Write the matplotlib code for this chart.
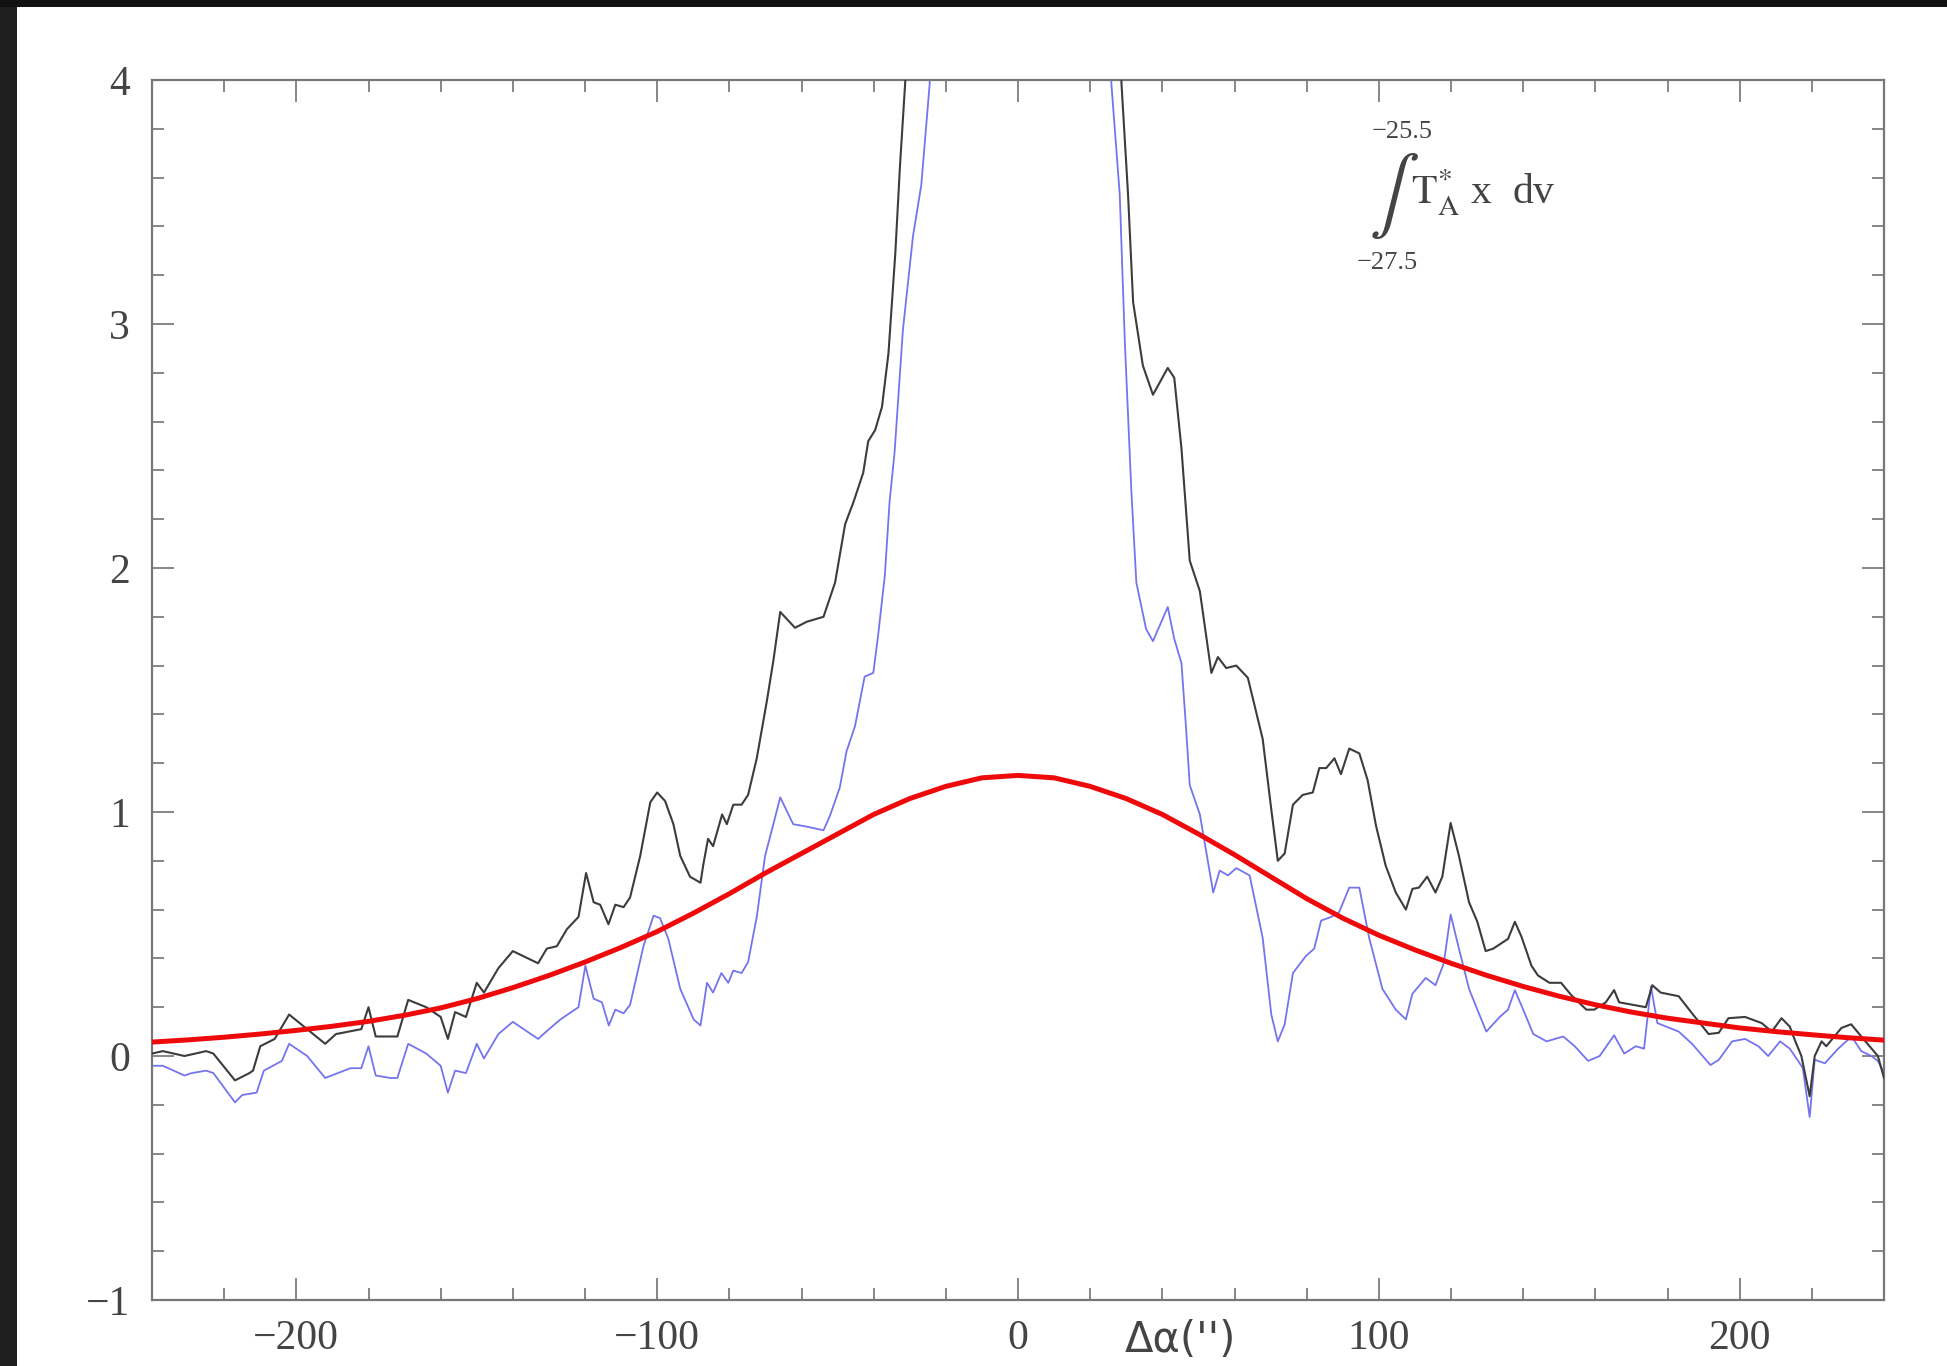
import matplotlib
matplotlib.use('Agg')
import matplotlib.pyplot as plt
from matplotlib.patches import Rectangle
from matplotlib.ticker import MultipleLocator
import matplotlib.transforms as mtransforms

# ---- data ----
# black profile (offset in arcsec, integrated intensity)
black_x = [-240, -237, -231, -225, -223, -217, -213, -212, -210, -206, -202, -192, -189,
           -182, -180, -178, -172, -169, -164, -160, -158, -156, -153, -150, -148, -144,
           -140, -133, -130.6, -127.8, -125, -121.8, -119.7, -117.6, -115.8, -113.5, -111.6,
           -109.3, -107.5, -104.7, -101.9, -100, -97.8, -95.5, -93.6, -90.9, -88, -87.2,
           -85.9, -84.5, -82, -80.7, -78.9, -76.6, -74.8, -72.4, -69.6, -67.8, -65.9, -61.8,
           -58.5, -53.9, -50.7, -47.9, -45.6, -42.9, -41.5, -39.6, -37.7, -35.9, -34, -32.7,
           -31.3, -29, 27, 28.7, 30.5, 31.9, 34.6, 37.4, 41.5, 43.3, 45.3, 47.6, 50.4, 53.6,
           55.4, 57.7, 60.5, 63.7, 67.8, 70.2, 72, 73.9, 76.2, 78.9, 81.7, 83.5, 85.4, 87.7,
           89.5, 91.8, 94.6, 96.9, 99.2, 101.9, 104.7, 107.5, 109.3, 111.1, 113.4, 115.7,
           117.6, 119.9, 122.2, 125, 127.3, 129.6, 131.7, 135.8, 137.7, 139.5, 142.3, 144.1,
           147.3, 150.5, 153.3, 157.5, 159.7, 162.9, 165.2, 166.6, 170.3, 174, 175.8, 178.1,
           183.1, 186.8, 191.4, 194.2, 196.9, 201.5, 206.1, 208.9, 211.6, 213.9, 215.3, 217.1,
           219.4, 220.8, 222.7, 224, 228.2, 230.9, 233.7, 236, 238.3, 240]
black_y = [0.01, 0.02, 0.0, 0.02, 0.01, -0.10, -0.07, -0.06, 0.04, 0.07, 0.17, 0.05, 0.09,
           0.11, 0.20, 0.08, 0.08, 0.23, 0.20, 0.16, 0.07, 0.18, 0.16, 0.30, 0.26, 0.36,
           0.43, 0.38, 0.44, 0.45, 0.52, 0.57, 0.75, 0.63, 0.62, 0.54, 0.62,
           0.61, 0.65, 0.82, 1.04, 1.08, 1.045, 0.95, 0.82, 0.735, 0.71, 0.785,
           0.89, 0.86, 0.99, 0.95, 1.03, 1.03, 1.07, 1.22, 1.455, 1.62, 1.82, 1.755,
           1.78, 1.80, 1.94, 2.18, 2.27, 2.39, 2.52, 2.565, 2.66, 2.88, 3.29, 3.65,
           3.98, 4.6, 4.6, 3.98, 3.53, 3.09, 2.83, 2.71, 2.82, 2.78, 2.49, 2.03, 1.905, 1.57,
           1.635, 1.59, 1.60, 1.55, 1.30, 1.01, 0.80, 0.83, 1.03, 1.07, 1.08, 1.18, 1.18, 1.22,
           1.155, 1.26, 1.24, 1.13, 0.945, 0.78, 0.67, 0.60, 0.685, 0.69, 0.735, 0.67,
           0.735, 0.955, 0.82, 0.63, 0.55, 0.43, 0.44, 0.48, 0.55, 0.49, 0.37, 0.33,
           0.30, 0.30, 0.25, 0.19, 0.19, 0.22, 0.27, 0.22, 0.21, 0.20, 0.29, 0.26,
           0.245, 0.175, 0.09, 0.095, 0.155, 0.16, 0.135, 0.10, 0.155, 0.12, 0.065, 0.0,
           -0.165, 0.0, 0.06, 0.04, 0.115, 0.13, 0.08, 0.04, 0.0, -0.09]

# blue profile
blue_x = [-240, -237, -231, -229, -225, -223, -217, -215, -211, -209, -204, -202, -197,
          -192, -185, -182, -180, -178, -174, -172, -169, -164, -160, -158, -156, -153,
          -150, -148, -144, -140, -133, -129.6, -126.8, -121.8, -119.9, -117.6, -115.3,
          -113.4, -111.6, -109.3, -107.5, -103.8, -101, -99.2, -96.9, -93.6, -89.9, -88,
          -87.2, -86.2, -84.5, -82.2, -80.3, -78.9, -76.6, -74.8, -72.4, -70.1, -67.8,
          -65.9, -62.3, -58.5, -53.9, -52.1, -49.4, -47.5, -45.2, -42.5, -40.1, -38.8,
          -36.9, -35.6, -34.2, -31.9, -29.1, -26.8, -24.5, -23, 24.5, 25.9, 28.2, 29.6,
          31.4, 32.8, 35.5, 37.4, 41.5, 43.3, 45.3, 46.5, 47.6, 50.4, 54.1, 55.9, 58.2,
          60.5, 64.2, 67.8, 70.2, 72, 73.9, 76.2, 79.8, 82.1, 84, 86.8, 89, 91.8, 94.6,
          97.3, 101, 104.7, 107.5, 109.3, 113, 115.7, 118, 119.9, 122.2, 125, 127.3,
          129.8, 133.5, 135.8, 137.7, 140, 142.8, 146.5, 151.1, 154.3, 158, 161.2, 165.2,
          168, 171.2, 173.5, 175.4, 177.2, 183.1, 186.8, 191.9, 194.2, 197.9, 201.5,
          205.2, 207.9, 211.2, 213.9, 216.2, 217.5, 219.4, 220.8, 223.6, 227.3, 231,
          233.7, 236.5, 238.3, 240]
blue_y = [-0.04, -0.04, -0.08, -0.07, -0.06, -0.07, -0.19, -0.16, -0.15, -0.06, -0.02, 0.05, 0.0,
          -0.09, -0.05, -0.05, 0.04, -0.08, -0.09, -0.09, 0.05, 0.01, -0.04, -0.15, -0.06, -0.07,
          0.05, -0.01, 0.09, 0.14, 0.07, 0.115, 0.15, 0.20, 0.37, 0.235, 0.22,
          0.125, 0.19, 0.175, 0.21, 0.45, 0.575, 0.565, 0.48, 0.275, 0.15, 0.125,
          0.20, 0.30, 0.26, 0.34, 0.30, 0.35, 0.34, 0.385, 0.57, 0.82, 0.95,
          1.06, 0.95, 0.94, 0.925, 0.985, 1.10, 1.25, 1.35, 1.555, 1.57, 1.72,
          1.97, 2.27, 2.475, 2.975, 3.36, 3.57, 3.98, 4.6, 4.6, 3.98, 3.53, 2.93,
          2.32, 1.94, 1.75, 1.70, 1.84, 1.71, 1.61, 1.36, 1.11, 0.99, 0.67, 0.76, 0.74,
          0.77, 0.74, 0.485, 0.17, 0.06, 0.13, 0.34, 0.41, 0.44, 0.555, 0.57, 0.59, 0.69, 0.69,
          0.485, 0.275, 0.19, 0.15, 0.255, 0.32, 0.29, 0.38, 0.58, 0.44, 0.275, 0.19,
          0.10, 0.16, 0.19, 0.27, 0.19, 0.09, 0.06, 0.08, 0.04, -0.02, 0.0, 0.085,
          0.01, 0.04, 0.03, 0.285, 0.135, 0.10, 0.05, -0.037, -0.016, 0.06, 0.07,
          0.04, 0.0, 0.06, 0.03, -0.02, -0.05, -0.25, -0.015, -0.03, 0.03, 0.08,
          0.02, 0.0, -0.02, -0.07]

# red fitted curve, read every 10 arcsec
red_x = list(range(-240, 250, 10))
red_y = [0.057, 0.066, 0.077, 0.09, 0.105, 0.122, 0.142, 0.167, 0.197, 0.235, 0.28, 0.33,
         0.385, 0.445, 0.51, 0.585, 0.665, 0.75, 0.83, 0.91, 0.99, 1.055, 1.105, 1.14, 1.15,
         1.14, 1.105, 1.055, 0.99, 0.91, 0.825, 0.735, 0.645, 0.565, 0.495, 0.435, 0.38,
         0.33, 0.285, 0.245, 0.21, 0.18, 0.155, 0.135, 0.115, 0.10, 0.087, 0.075, 0.065]

x_ticks = [-200, -100, 0, 100, 200]
x_ticklabels = ['\u2212200', '\u2212100', '0', '100', '200']
y_ticks = [-1, 0, 1, 2, 3, 4]
y_ticklabels = ['\u22121', '0', '1', '2', '3', '4']

plt.rcParams['font.family'] = ['Liberation Serif', 'DejaVu Serif']
plt.rcParams['mathtext.fontset'] = 'stix'

W, H = 1947, 1366
fig = plt.figure(figsize=(W / 100, H / 100), dpi=100)
fig.patch.set_facecolor('white')

# dark frame strips of the screenshot
fig.patches.append(Rectangle((0, 0), 17 / W, 1, transform=fig.transFigure,
                             facecolor='#1e1e1e', edgecolor='none', zorder=0))
fig.patches.append(Rectangle((0, 1 - 7 / H), 1, 7 / H, transform=fig.transFigure,
                             facecolor='#111111', edgecolor='none', zorder=0))

ax = fig.add_axes([152 / W, 66 / H, 1732 / W, 1220 / H])

ax.plot(blue_x, blue_y, color='#7474ee', lw=1.3, zorder=2)
ax.plot(black_x, black_y, color='#3c3c3c', lw=1.5, zorder=3)
ax.plot(red_x, red_y, color='#ee0a0a', lw=3.6, zorder=4, solid_joinstyle='round')

ax.set_xlim(-240, 240)
ax.set_ylim(-1, 4)

ax.set_xticks(x_ticks)
ax.set_xticklabels(x_ticklabels)
ax.set_yticks(y_ticks)
ax.set_yticklabels(y_ticklabels)
ax.xaxis.set_minor_locator(MultipleLocator(20))
ax.yaxis.set_minor_locator(MultipleLocator(0.2))

ax.tick_params(which='both', direction='in', top=True, right=True, color='#666666')
ax.tick_params(which='major', length=16, width=1.1, labelsize=30, labelcolor='#444444', pad=14)
ax.tick_params(which='minor', length=8.5, width=1.1)
ax.tick_params(axis='y', which='major', pad=16)

for s in ax.spines.values():
    s.set_color('#777777')
    s.set_linewidth(1.6)

# x-axis label sits in the tick label row
trans = mtransforms.blended_transform_factory(ax.transData, ax.transAxes)
ax.text(45, -0.033, "\u0394\u03b1('')", transform=trans, ha='center', va='center',
        fontsize=30, color='#444444', family=['DejaVu Sans'])

# integral annotation
tc = '#444444'
ax.text(0.722, 0.957, '\u221225.5', transform=ax.transAxes, ha='center', va='center',
        fontsize=19, color=tc)
ax.text(0.713, 0.850, '\u221227.5', transform=ax.transAxes, ha='center', va='center',
        fontsize=19, color=tc)
ax.text(0.717, 0.905, r'$\int$', transform=ax.transAxes, ha='center', va='center',
        fontsize=54, color=tc)
ax.text(0.727, 0.898, r'$\mathrm{T}_\mathrm{A}^{*}$ x  dv', transform=ax.transAxes,
        ha='left', va='baseline', fontsize=30, color=tc)

fig.savefig('out.png', dpi=100, facecolor='white')
